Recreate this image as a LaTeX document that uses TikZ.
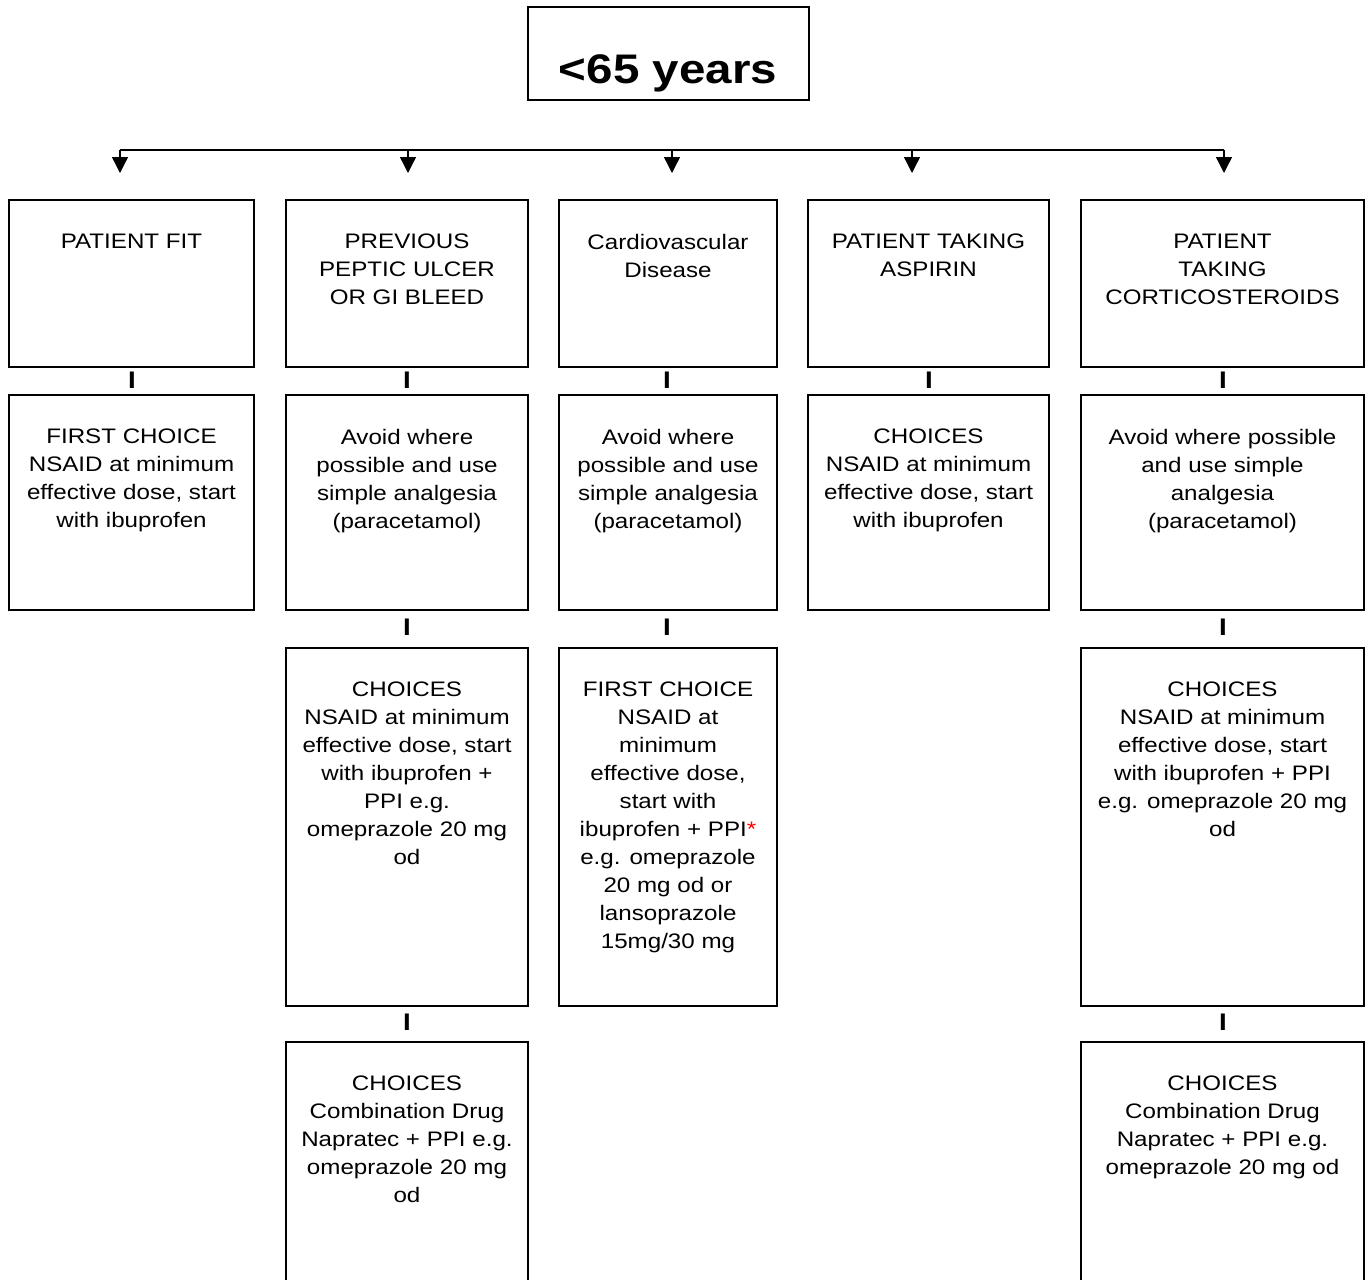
\documentclass[tikz,border=0pt]{standalone}
\usepackage{fontspec}
\setmainfont{Liberation Sans}[FakeStretch=1.15]
\usetikzlibrary{arrows.meta,fit}

% one framed cell: name, x1, y1, x2, y2, text (text hangs from the top edge)
\newcommand\cell[6]{%
  \node[box, fit={(#2,#3) (#4,#5)}] (#1) {};
  \node[txt] (#1t) at ([yshift=-26.25pt]#1.north) {#6};}

\begin{document}
\begin{tikzpicture}[x=0.75pt,y=-0.75pt,
  box/.style={draw=black, line width=1.5pt, inner sep=0pt},
  txt/.style={align=center, inner sep=0pt, anchor=north,
              font=\fontsize{15.75}{21}\selectfont},
  link/.style={inner sep=0pt, font=\bfseries\fontsize{18}{21}\selectfont},
  bus/.style={line width=1pt},
  arr/.style={line width=1pt, -{Triangle[width=12pt,length=12pt]}}]
\useasboundingbox (0,0) rectangle (1368,1279);
\clip (0,0) rectangle (1368,1279);

% heading
\node[box, fit={(528,7) (809,100)}] (age) {};
\node[inner sep=0pt, anchor=base, font=\bfseries\fontsize{31}{36}\selectfont]
  (aget) at (668,83) {<65 years};

% distribution bar with arrows
\coordinate (b1) at (120,150);
\coordinate (b2) at (408,150);
\coordinate (b3) at (672,150);
\coordinate (b4) at (912,150);
\coordinate (b5) at (1224,150);
\coordinate (a1) at (120,173);
\coordinate (a2) at (408,173);
\coordinate (a3) at (672,173);
\coordinate (a4) at (912,173);
\coordinate (a5) at (1224,173);
\draw[bus] (b1) -- (b5);
\foreach \i in {1,...,5} \draw[arr] (b\i) -- (a\i);

% row 1
\cell{r1c1}{9}{200}{254}{367}{PATIENT FIT}
\cell{r1c2}{286}{200}{528}{367}{PREVIOUS\\PEPTIC ULCER\\OR GI BLEED}
\cell{r1c3}{559}{200}{777}{367}{Cardiovascular\\Disease}
\cell{r1c4}{808}{200}{1049}{367}{PATIENT TAKING\\ASPIRIN}
\cell{r1c5}{1081}{200}{1364}{367}{PATIENT\\TAKING\\CORTICOSTEROIDS}

% row 2
\cell{r2c1}{9}{395}{254}{610}{FIRST CHOICE\\NSAID at minimum\\effective dose, start\\with ibuprofen}
\cell{r2c2}{286}{395}{528}{610}{Avoid where\\possible and use\\simple analgesia\\(paracetamol)}
\cell{r2c3}{559}{395}{777}{610}{Avoid where\\possible and use\\simple analgesia\\(paracetamol)}
\cell{r2c4}{808}{395}{1049}{610}{CHOICES\\NSAID at minimum\\effective dose, start\\with ibuprofen}
\cell{r2c5}{1081}{395}{1364}{610}{Avoid where possible\\and use simple\\analgesia\\(paracetamol)}

% row 3
\cell{r3c2}{286}{648}{528}{1006}{CHOICES\\NSAID at minimum\\effective dose, start\\with ibuprofen +\\PPI e.g.\\omeprazole 20 mg\\od}
\cell{r3c3}{559}{648}{777}{1006}{FIRST CHOICE\\NSAID at\\minimum\\effective dose,\\start with\\ibuprofen + PPI{\color{red}*}\\e.g. omeprazole\\20 mg od or\\lansoprazole\\15mg/30 mg}
\cell{r3c5}{1081}{648}{1364}{1006}{CHOICES\\NSAID at minimum\\effective dose, start\\with ibuprofen + PPI\\e.g. omeprazole 20 mg\\od}

% row 4 (runs off the lower edge)
\cell{r4c2}{286}{1042}{528}{1300}{CHOICES\\Combination Drug\\Napratec + PPI e.g.\\omeprazole 20 mg\\od}
\cell{r4c5}{1081}{1042}{1364}{1300}{CHOICES\\Combination Drug\\Napratec + PPI e.g.\\omeprazole 20 mg od}

% vertical link marks between stacked cells
\node[link] (l11) at (132,380) {I};
\node[link] (l12) at (407,380) {I};
\node[link] (l13) at (667,380) {I};
\node[link] (l14) at (929,380) {I};
\node[link] (l15) at (1223,380) {I};
\node[link] (l22) at (407,627) {I};
\node[link] (l23) at (667,627) {I};
\node[link] (l25) at (1223,627) {I};
\node[link] (l32) at (407,1022) {I};
\node[link] (l35) at (1223,1022) {I};
\end{tikzpicture}
\end{document}
